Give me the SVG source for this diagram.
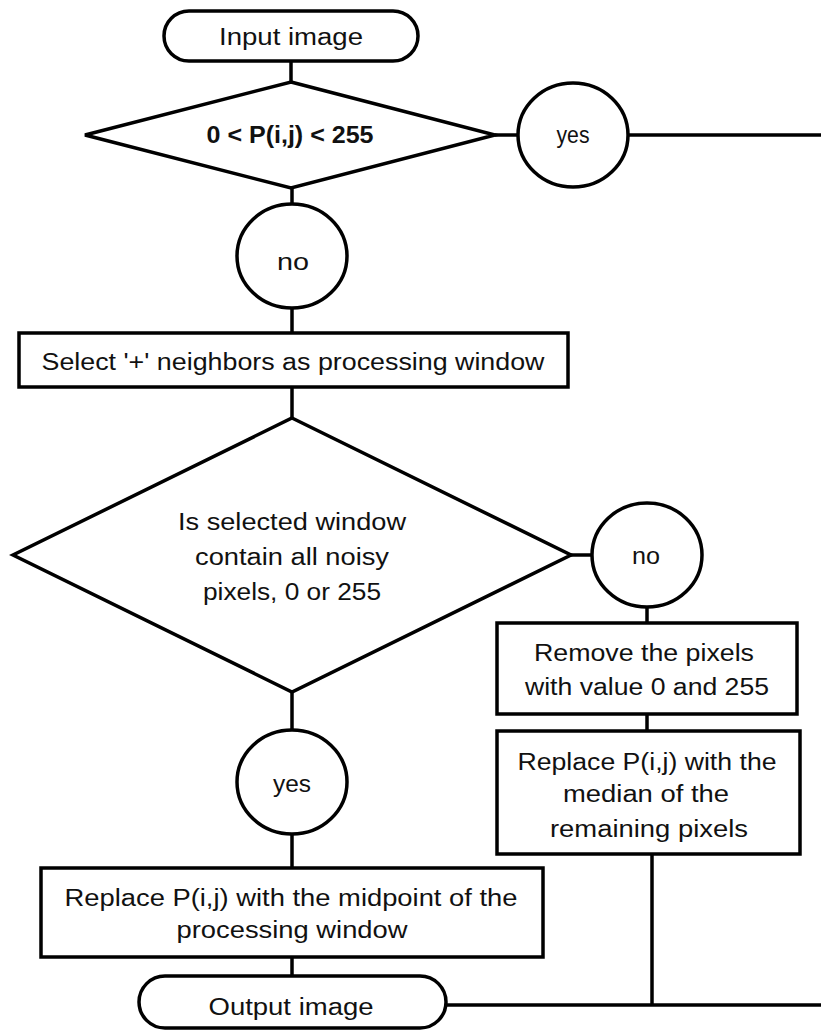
<svg xmlns="http://www.w3.org/2000/svg" width="821" height="1030" viewBox="0 0 821 1030">
<style>
.s{fill:#fff;stroke:#000;stroke-width:3.5}
.c{fill:none;stroke:#000;stroke-width:3.5}
text{font-family:"Liberation Sans",Arial,sans-serif;font-size:23px;text-anchor:middle;fill:#111}
.b{font-weight:bold}
</style>
<rect width="821" height="1030" fill="#fff"/>
<g id="connectors">
<line class="c" x1="291" y1="61" x2="291" y2="82"/>
<line class="c" x1="495" y1="135" x2="518" y2="135"/>
<line class="c" x1="629" y1="135" x2="821" y2="135"/>
<line class="c" x1="292" y1="188" x2="292" y2="204"/>
<line class="c" x1="292" y1="308" x2="292" y2="332"/>
<line class="c" x1="292" y1="387" x2="292" y2="418"/>
<line class="c" x1="571" y1="555" x2="592" y2="555"/>
<line class="c" x1="647" y1="607" x2="647" y2="623"/>
<line class="c" x1="647" y1="714" x2="647" y2="731"/>
<line class="c" x1="292" y1="692" x2="292" y2="731"/>
<line class="c" x1="292" y1="834" x2="292" y2="868"/>
<line class="c" x1="292" y1="957" x2="292" y2="976"/>
<line class="c" x1="652" y1="854" x2="652" y2="1005"/>
<line class="c" x1="446" y1="1005" x2="821" y2="1005"/>
</g>
<g id="input">
<rect class="s" x="164" y="11" width="254" height="50" rx="25"/>
<text x="291" y="45" textLength="144" lengthAdjust="spacingAndGlyphs">Input image</text>
</g>
<g id="decision1">
<polygon class="s" points="291,82 495,135 291,188 85,135"/>
<text class="b" x="290" y="143" font-size="22" textLength="167" lengthAdjust="spacingAndGlyphs">0 &lt; P(i,j) &lt; 255</text>
</g>
<g id="yes1">
<ellipse class="s" cx="573" cy="135" rx="55" ry="52"/>
<text x="573" y="143" font-size="20" textLength="33" lengthAdjust="spacingAndGlyphs">yes</text>
</g>
<g id="no1">
<ellipse class="s" cx="292" cy="256" rx="55" ry="52"/>
<text x="293" y="270" textLength="32" lengthAdjust="spacingAndGlyphs">no</text>
</g>
<g id="select">
<rect class="s" x="19" y="333" width="549" height="54"/>
<text x="293" y="370" textLength="503" lengthAdjust="spacingAndGlyphs">Select '+' neighbors as processing window</text>
</g>
<g id="decision2">
<polygon class="s" points="292,418 571,555 292,692 13,555"/>
<text x="292" y="530" textLength="228" lengthAdjust="spacingAndGlyphs">Is selected window</text>
<text x="292" y="565" textLength="194" lengthAdjust="spacingAndGlyphs">contain all noisy</text>
<text x="292" y="600" textLength="178" lengthAdjust="spacingAndGlyphs">pixels, 0 or 255</text>
</g>
<g id="no2">
<ellipse class="s" cx="647" cy="555" rx="55" ry="52"/>
<text x="646" y="564" font-size="20" textLength="28" lengthAdjust="spacingAndGlyphs">no</text>
</g>
<g id="remove">
<rect class="s" x="497" y="623" width="300" height="91"/>
<text x="644" y="661" textLength="220" lengthAdjust="spacingAndGlyphs">Remove the pixels</text>
<text x="647" y="695" textLength="244" lengthAdjust="spacingAndGlyphs">with value 0 and 255</text>
</g>
<g id="median">
<rect class="s" x="497" y="731" width="303" height="123"/>
<text x="647" y="770" textLength="259" lengthAdjust="spacingAndGlyphs">Replace P(i,j) with the</text>
<text x="646" y="802" textLength="166" lengthAdjust="spacingAndGlyphs">median of the</text>
<text x="649" y="837" textLength="198" lengthAdjust="spacingAndGlyphs">remaining pixels</text>
</g>
<g id="yes2">
<ellipse class="s" cx="292" cy="782" rx="55" ry="52"/>
<text x="292" y="792" textLength="38" lengthAdjust="spacingAndGlyphs">yes</text>
</g>
<g id="midpoint">
<rect class="s" x="41" y="868" width="502" height="89"/>
<text x="291" y="906" textLength="453" lengthAdjust="spacingAndGlyphs">Replace P(i,j) with the midpoint of the</text>
<text x="292" y="938" textLength="231" lengthAdjust="spacingAndGlyphs">processing window</text>
</g>
<g id="output">
<rect class="s" x="139" y="976" width="307" height="52" rx="26"/>
<text x="291" y="1015" textLength="165" lengthAdjust="spacingAndGlyphs">Output image</text>
</g>
</svg>
